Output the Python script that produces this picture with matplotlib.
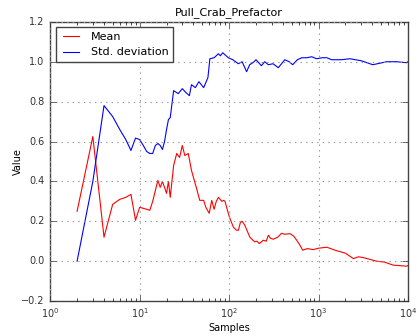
import matplotlib
matplotlib.use('Agg')
import matplotlib.pyplot as plt

# values
mean_samples = [2, 3, 4, 5, 6, 7, 8, 9, 10, 11, 12, 13, 14, 16, 17, 18, 20, 21, 22, 24,
                26, 28, 30, 32, 35, 38, 43, 47, 52, 55, 60, 64, 68, 72, 76, 83, 87, 90,
                98, 102, 112, 121, 127, 134, 140, 150, 160, 171, 185, 195, 205, 218, 241,
                260, 275, 290, 312, 350, 386, 420, 480, 530, 570, 620, 665, 750, 870,
                1000, 1240, 1530, 2000, 2450, 2800, 3160, 4450, 5500, 6840, 9600, 10000]
mean_values = [0.25, 0.625, 0.12, 0.285, 0.31, 0.32, 0.335, 0.205, 0.27, 0.265, 0.26,
               0.255, 0.30, 0.405, 0.37, 0.40, 0.34, 0.40, 0.32, 0.48,
               0.54, 0.52, 0.58, 0.53, 0.54, 0.455, 0.37, 0.305, 0.305, 0.27, 0.24,
               0.305, 0.26, 0.30, 0.32, 0.30, 0.305, 0.30,
               0.24, 0.215, 0.17, 0.155, 0.155, 0.195, 0.20, 0.18, 0.15, 0.12, 0.105,
               0.097, 0.10, 0.088, 0.105, 0.10, 0.13, 0.115, 0.11, 0.12, 0.14, 0.135,
               0.138, 0.125, 0.105, 0.08, 0.055, 0.063, 0.058, 0.065, 0.07, 0.055,
               0.04, 0.013, 0.022, 0.018, 0.0, -0.005, -0.02, -0.025, -0.022]

std_samples = [2, 3, 4, 5, 6, 7, 8, 9, 10, 11, 12, 13, 14, 15, 16, 17, 18, 19, 20, 21,
               22, 24, 27, 30, 33, 36, 38, 42, 46, 52, 58, 61, 68, 76, 80, 85, 98, 110,
               127, 140, 157, 170, 187, 200, 230, 250, 275, 310, 355, 420, 470, 515,
               580, 650, 740, 840, 950, 1100, 1240, 1400, 1800, 2230, 3000, 4040, 5800,
               7500, 9600, 10000]
std_values = [0.0, 0.40, 0.78, 0.725, 0.66, 0.61, 0.555, 0.617, 0.61, 0.58, 0.55, 0.54,
              0.54, 0.58, 0.59, 0.58, 0.56, 0.60, 0.66, 0.71,
              0.72, 0.855, 0.84, 0.865, 0.845, 0.83, 0.885, 0.87, 0.90, 0.87, 0.92, 1.015,
              1.02, 1.04, 1.03, 1.045, 1.02, 1.01,
              0.99, 1.0, 0.95, 0.985, 0.997, 1.01, 0.98, 1.0, 0.985, 0.99, 0.97, 1.01,
              1.0, 0.985, 1.01, 1.02, 1.02, 1.025, 1.015, 1.02, 1.02,
              1.01, 1.01, 1.015, 1.005, 0.985, 1.0, 1.0, 0.995, 1.0]

plt.style.use('classic')
fig = plt.figure(figsize=(4.18, 3.36), dpi=100)
ax = fig.add_axes([0.12, 0.104, 0.856, 0.831])

ax.plot(mean_samples, mean_values, color='red', linewidth=0.8, label='Mean')
ax.plot(std_samples, std_values, color='blue', linewidth=0.8, label='Std. deviation')

ax.set_xscale('log')
ax.set_xlim(1, 1e4)
ax.set_ylim(-0.2, 1.2)
ax.grid(True, color='#999999', linestyle=':', linewidth=0.8)
for sp in ax.spines.values():
    sp.set_color('#444444')
ax.set_title('Pull_Crab_Prefactor', fontsize=8, pad=5)
ax.set_xlabel('Samples', fontsize=7, labelpad=2)
ax.set_ylabel('Value', fontsize=7, labelpad=-1)
ax.tick_params(labelsize=7, colors='#333333')
leg = ax.legend(loc='upper left', fontsize=8)
leg.get_frame().set_edgecolor('#444444')

fig.savefig('out.png', dpi=100)
